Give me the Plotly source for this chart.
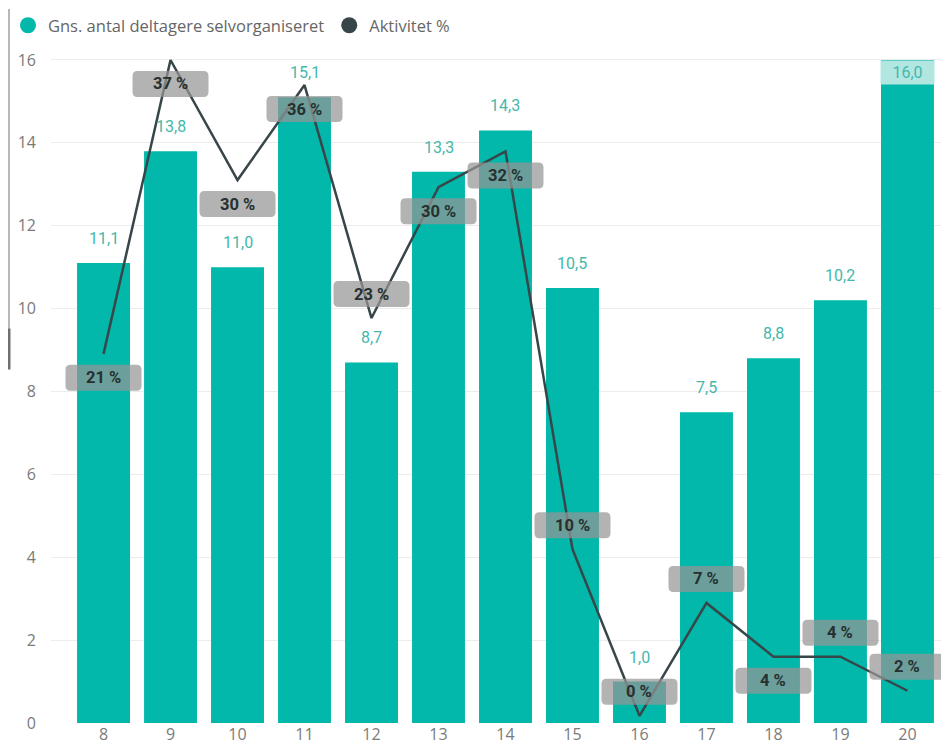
import plotly.graph_objects as go

# ---- data ----
categories = [8, 9, 10, 11, 12, 13, 14, 15, 16, 17, 18, 19, 20]
deltagere = [11.1, 13.8, 11.0, 15.1, 8.7, 13.3, 14.3, 10.5, 1.0, 7.5, 8.8, 10.2, 16.0]
aktivitet_pct = [20.6, 37.0, 30.3, 35.6, 22.6, 29.9, 31.9, 9.7, 0.4, 6.7, 3.7, 3.7, 1.8]
y_ticks = [0, 2, 4, 6, 8, 10, 12, 14, 16]
series_names = ["Gns. antal deltagere selvorganiseret", "Aktivitet %"]

# ---- style ----
BAR = "#01B8AA"
LINE = "#374649"
BAR_LABEL = "#45b8ab"
TICK = "#7a7a7a"
Y_TOP = 16.41
PCT_TOP = Y_TOP * 37.0 / 16.0
label_side = [-1, -1, -1, -1, 1, -1, -1, 1, 1, 1, -1, 1, 1]  # -1 below, +1 above
FIG_W, FIG_H = 941, 742   # page body has an 8px margin

fig = go.Figure()
fig.add_trace(go.Bar(
    x=categories, y=deltagere, name=series_names[0], showlegend=False,
    marker=dict(color=BAR, line=dict(width=0)), width=0.79, yaxis="y",
))
fig.add_trace(go.Scatter(
    x=categories, y=aktivitet_pct, name=series_names[1], mode="lines",
    showlegend=False, line=dict(color=LINE, width=2.5), yaxis="y2",
))
# legend entries (circle symbols, as in the original)
for nm, col in zip(series_names, [BAR, LINE]):
    fig.add_trace(go.Scatter(x=[None], y=[None], mode="markers", name=nm,
                             marker=dict(color=col, size=16, symbol="circle")))

shapes = []
annotations = []
W, H, R, OFF = 76, 26, 5, 24
for c, v, s in zip(categories, aktivitet_pct, label_side):
    dy = s * OFF
    x0, x1 = -W / 2, W / 2
    y0, y1 = dy - H / 2, dy + H / 2
    path = (f"M {x0+R},{y0} L {x1-R},{y0} Q {x1},{y0} {x1},{y0+R} "
            f"L {x1},{y1-R} Q {x1},{y1} {x1-R},{y1} L {x0+R},{y1} "
            f"Q {x0},{y1} {x0},{y1-R} L {x0},{y0+R} Q {x0},{y0} {x0+R},{y0} Z")
    shapes.append(dict(type="path", xref="x", yref="y2", xsizemode="pixel",
                       ysizemode="pixel", xanchor=c, yanchor=v, path=path,
                       fillcolor="rgba(150,150,150,0.72)", line=dict(width=0),
                       layer="above"))
    annotations.append(dict(x=c, y=v, xref="x", yref="y2", yshift=dy,
                            text=f"<b>{round(v):d} %</b>", showarrow=False,
                            font=dict(family="Roboto", size=16.5, color="#26302f"),
                            yanchor="middle", xanchor="center"))

for c, v in zip(categories, deltagere):
    txt = f"{v:.1f}".replace(".", ",")
    if v + 0.7 > Y_TOP:
        annotations.append(dict(x=c, y=v, xref="x", yref="y", yanchor="top",
                                text=txt, showarrow=False, bgcolor="#b2e7e1",
                                width=51, height=21, borderpad=1,
                                font=dict(family="Roboto", size=16, color=BAR_LABEL)))
    else:
        annotations.append(dict(x=c, y=v, xref="x", yref="y", yanchor="bottom",
                                yshift=13, text=txt, showarrow=False,
                                font=dict(family="Roboto", size=16, color=BAR_LABEL)))

# frame edge on the left
shapes.append(dict(type="line", xref="paper", yref="paper",
                   x0=-42 / 898, x1=-42 / 898, y0=1.05, y1=0.52,
                   line=dict(color="#b8b8b8", width=2)))
shapes.append(dict(type="line", xref="paper", yref="paper",
                   x0=-42 / 898, x1=-42 / 898, y0=0.58, y1=0.52,
                   line=dict(color="#707070", width=3)))

fig.update_layout(
    width=FIG_W, height=FIG_H,
    margin=dict(l=43, r=0, t=32, b=27),
    paper_bgcolor="white", plot_bgcolor="white",
    bargap=0.21,
    showlegend=True,
    legend=dict(orientation="h", xref="container", yref="container",
                x=0.0, xanchor="left", y=1.0, yanchor="top",
                font=dict(family="Open Sans", size=16.5, color="#666666"),
                itemwidth=30, traceorder="normal", tracegroupgap=0,
                bgcolor="rgba(0,0,0,0)"),
    xaxis=dict(range=[8 - 0.784, 8 + 12.62], tickvals=categories,
               ticktext=[str(c) for c in categories], showgrid=False,
               zeroline=False, showline=False, ticks="",
               tickfont=dict(family="Open Sans", size=16, color=TICK)),
    yaxis=dict(range=[0, Y_TOP], tickvals=y_ticks, showgrid=True,
               gridcolor="#ececec", gridwidth=1, zeroline=False, showline=False,
               ticks="", ticklabelstandoff=14,
               tickfont=dict(family="Open Sans", size=16, color=TICK)),
    yaxis2=dict(range=[0, PCT_TOP], overlaying="y", visible=False),
    shapes=shapes, annotations=annotations,
)

fig.write_html("out.html")
